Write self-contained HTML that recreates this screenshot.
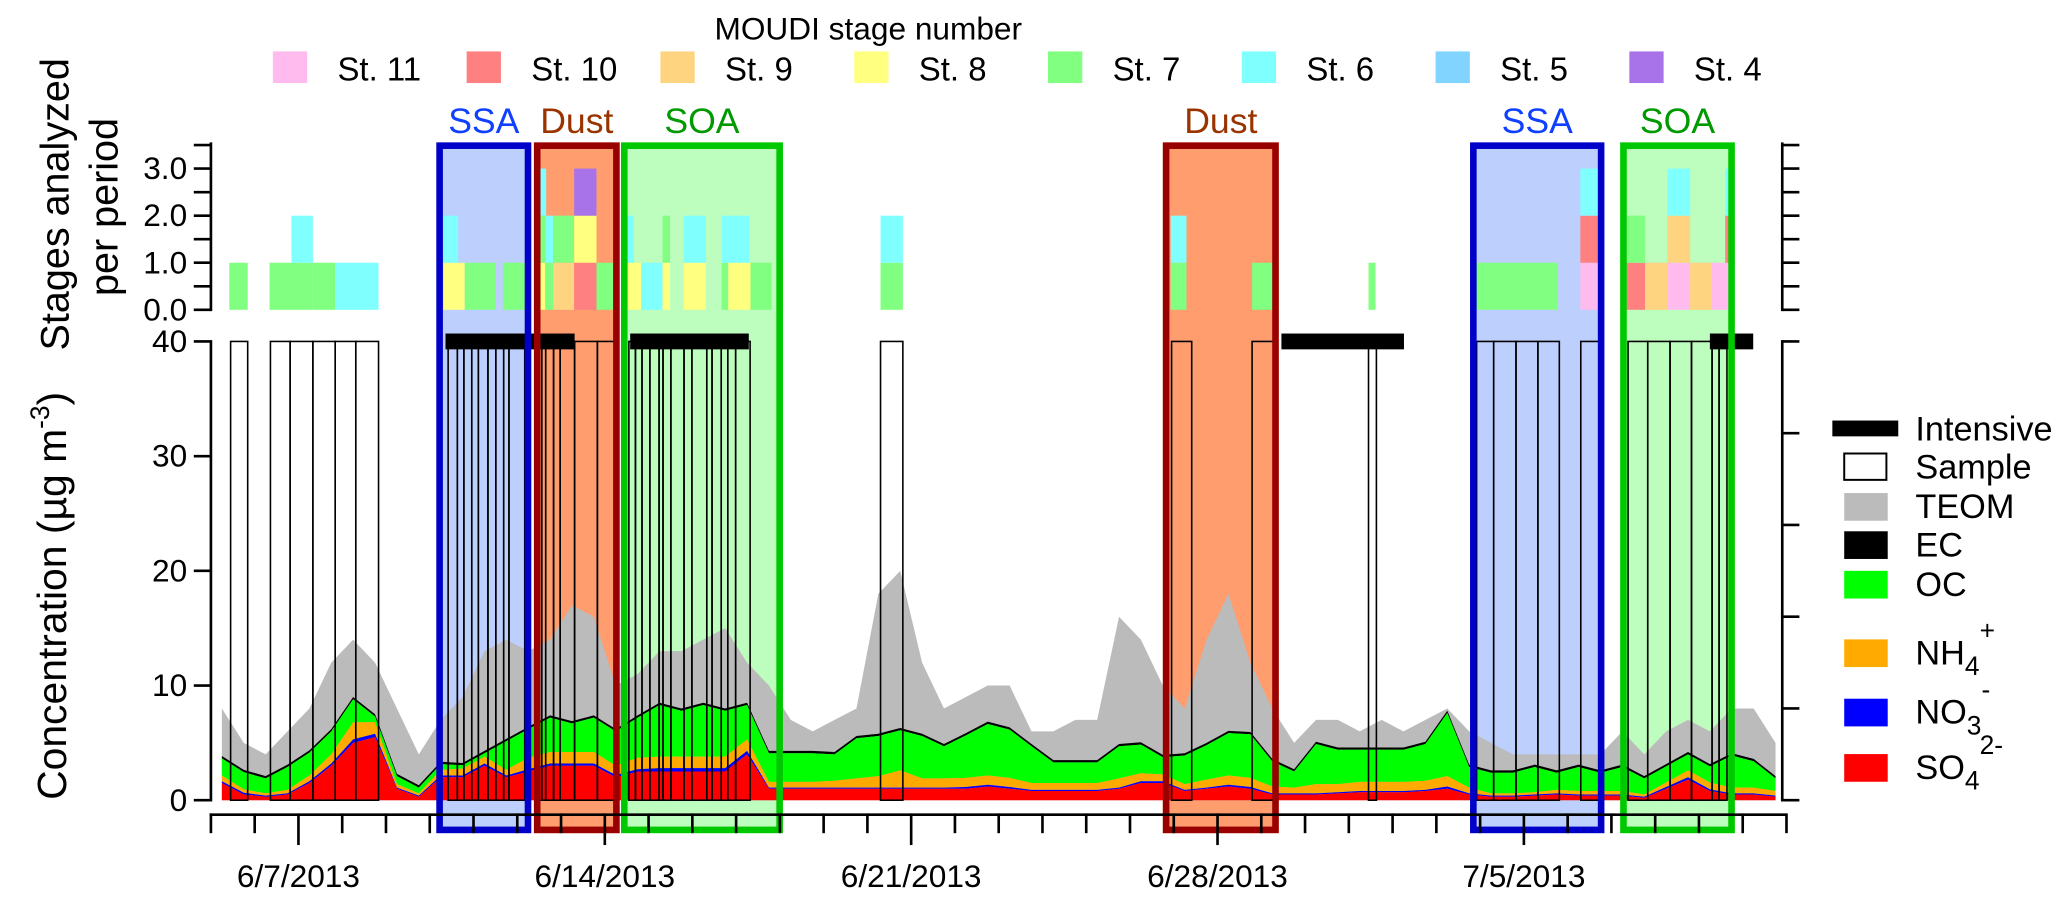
<!DOCTYPE html>
<html><head><meta charset="utf-8"><style>
html,body{margin:0;padding:0;background:#fff;}
svg{display:block;font-family:"Liberation Sans",Arial,sans-serif;}
</style></head><body>
<svg id="chart" width="2067" height="907" viewBox="0 0 1568 688" preserveAspectRatio="none" xmlns="http://www.w3.org/2000/svg">
<g id="regions"></g>
<g id="stages"></g>
<g id="conc"></g>
<g id="samples"></g>
<g id="borders"></g>
<g id="axes"></g>
<g id="legend"></g>
</svg>
<script>
// ---------- data ----------
const teom=[8,5,4,6,8,12,14,12,8,4,7,9,13,14,13,14,17,16,10,11,13,13,14,15,12,10,7,6,7,8,18,20,12,8,9,10,10,6,6,7,7,16,14,10,8,14,18,12,8,5,7,7,6,7,6,7,8,6,5,4,4,4,4,4,6,4,6,7,6,8,8,5];
const so4=[1.5,.5,.3,.5,1.5,3,5,5.5,1,.3,2,2,3,2,2.5,3,3,3,2,2.5,2.5,2.5,2.5,2.5,4,1,1,1,1,1,1,1,1,1,1,1.2,1,.8,.8,.8,.8,1,1.5,1.5,.8,1,1.2,1,.5,.5,.5,.6,.7,.7,.7,.8,1,.5,.3,.3,.4,.5,.4,.4,.4,.2,1,1.8,.8,.5,.5,.3];
const no3=[.15,.15,.1,.1,.15,.2,.3,.3,.1,.1,.15,.15,.2,.15,.2,.2,.2,.2,.2,.2,.3,.3,.3,.3,.3,.1,.1,.1,.1,.1,.1,.1,.1,.1,.15,.15,.15,.1,.1,.1,.1,.1,.15,.15,.1,.1,.15,.15,.1,.1,.1,.1,.1,.1,.1,.1,.2,.1,.1,.1,.1,.1,.1,.1,.1,.1,.15,.2,.15,.1,.1,.1];
const nh4=[.5,.3,.2,.3,.5,.8,1.5,1,.3,.2,.5,.6,.6,.5,1,1,1,1,.8,1,1,1,1,1,1,.5,.5,.5,.6,.8,1,1.5,.8,.8,.8,.8,.8,.6,.6,.6,.6,.8,.7,.6,.5,.7,.8,.8,.6,.5,.8,.7,.8,.8,.8,.8,.9,.5,.2,.2,.2,.3,.3,.3,.3,.2,.4,.6,.6,.5,.5,.4];
const oc=[1.5,1.5,1.3,2,2,2,2,.5,.7,.5,.5,.3,.3,2.5,2.5,3,2.5,3,3,3.5,4.5,4,4.5,4,3,2.5,2.5,2.5,2.3,3.5,3.5,3.5,3.7,2.8,3.7,4.5,4.2,3.2,1.8,1.8,1.8,2.8,2.5,1.5,2.5,3,3.7,3.8,2.2,1.4,3.5,3,2.8,2.8,2.8,3.2,5.5,1.8,1.8,1.8,2.2,1.5,2.1,1.6,2.1,1.4,1.4,1.4,1.4,2.8,2.3,1.1];
const ec=[.2,.2,.2,.2,.2,.2,.2,.2,.2,.2,.2,.2,.2,.2,.2,.2,.2,.2,.2,.2,.2,.2,.2,.2,.2,.2,.2,.2,.2,.2,.2,.2,.2,.2,.2,.2,.2,.2,.2,.2,.2,.2,.2,.2,.2,.2,.2,.2,.2,.2,.2,.2,.2,.2,.2,.2,.2,.2,.2,.2,.2,.2,.2,.2,.2,.2,.2,.2,.2,.2,.2,.2];
const stageStart=[0.42,1.34,2.33,2.84,1.84, 5.31,5.80,6.67,5.31, 7.46,7.64,7.82,8.30,8.81,7.46,7.64,7.82,8.30,7.48,8.30, 9.52,9.83,10.32,10.80,11.67,11.82,12.33,9.52,10.32,10.80,11.67, 15.30,15.30, 21.93,21.93,23.79,26.45, 28.89,31.29,31.29,31.29, 32.35,32.77,33.28,33.80,34.28,32.35,33.28,34.60,33.28,34.60];
const stageEnd=[0.84,2.33,2.84,3.83,2.33, 5.80,6.51,7.18,5.65, 7.64,7.82,8.30,8.81,9.27,7.64,7.82,8.30,8.81,7.66,8.81, 9.83,10.32,10.49,11.31,11.82,12.33,12.81,9.66,10.49,11.31,12.30, 15.81,15.81, 22.29,22.29,24.28,26.61, 30.78,31.72,31.72,31.72, 32.77,33.28,33.80,34.28,34.70,32.77,33.80,34.70,33.80,34.70];
const stageLevel=[0,0,0,0,1, 0,0,0,1, 0,0,0,0,0,1,1,1,1,2,2, 0,0,0,0,0,0,0,1,1,1,1, 0,1, 0,1,0,0, 0,0,1,2, 0,0,0,0,0,1,1,1,2,2];
const stageNum=[7,7,7,6,6, 8,7,7,6, 8,7,9,10,7,7,6,7,8,6,4, 8,6,8,8,7,8,7,6,7,6,6, 7,6, 7,6,7,7, 7,11,10,6, 10,9,11,9,11,7,9,10,6,6];
const eventNames=["SSA","Dust","SOA","Dust","SSA","SOA"];
const eventStart=[5.15,7.38,9.37,21.75,28.77,32.2];
const eventEnd=[7.32,9.34,13.07,24.40,31.84,34.82];
const intStart=[5.36,9.58,24.46,34.25];
const intEnd=[8.31,12.29,27.26,35.24];
const sampStart=[0.45,1.36,1.81,2.33,2.84,3.31, 5.42,5.63,5.78,5.96,6.11,6.33,6.51,6.69,6.81, 7.44,7.56,7.65,7.83,7.98,8.31,8.83, 9.55,9.70,9.85,10.03,10.24,10.33,10.51,10.81,10.99,11.33,11.45,11.66,11.81,11.99, 15.30,21.95,23.79,26.45, 28.92,29.31,29.82,30.32,31.30, 32.38,32.83,33.34,33.83,34.30,34.46];
const sampEnd=[0.84,1.81,2.33,2.84,3.31,3.83, 5.63,5.78,5.96,6.11,6.33,6.51,6.69,6.81,7.17, 7.56,7.65,7.83,7.98,8.31,8.83,9.25, 9.70,9.85,10.03,10.24,10.33,10.51,10.81,10.99,11.33,11.45,11.66,11.81,11.99,12.32, 15.81,22.41,24.31,26.63, 29.31,29.82,30.32,30.81,31.75, 32.83,33.34,33.83,34.30,34.46,34.64];
const dateLabels=["6/7/2013","6/14/2013","6/21/2013","6/28/2013","7/5/2013"];
const dateLabelDays=[2,9,16,23,30];
const concTicks=[0,10,20,30,40];
const stageTicks=["0.0","1.0","2.0","3.0"];

const X0=160, DX=33.2;
const x=d=>X0+d*DX;
const yc=v=>607-v*8.7;
const ys=v=>235-v*35.7;
const NS="http://www.w3.org/2000/svg";
function mk(tag,attrs,parent){const e=document.createElementNS(NS,tag);for(const k in attrs)e.setAttribute(k,attrs[k]);parent.appendChild(e);return e;}
const stageColor={11:"#ffbbee",10:"#ff8080",9:"#ffd480",8:"#ffff80",7:"#80ff80",6:"#80ffff",5:"#80d4ff",4:"#a873e8"};
const evFill={SSA:"#bdcffc",Dust:"#ff9d6f",SOA:"#bdfdbd"};
const evStroke={SSA:"#0000c8",Dust:"#990000",SOA:"#00c800"};
const evText={SSA:"#1040ff",Dust:"#993300",SOA:"#009900"};

const G=id=>document.getElementById(id);
eventNames.forEach((n,i)=>{
  const r=mk("rect",{x:x(eventStart[i]),y:108,width:x(eventEnd[i])-x(eventStart[i]),height:524,fill:evFill[n]},G("regions"));
  
  
  const t=mk("text",{x:(x(eventStart[i])+x(eventEnd[i]))/2,y:101,"text-anchor":"middle","font-size":27,fill:evText[n]},G("borders"));
  t.textContent=n;
  
  
});
stageStart.forEach((s,i)=>{
  const r=mk("rect",{x:x(s),y:ys(stageLevel[i]+1),width:x(stageEnd[i])-x(s),height:35.7,fill:stageColor[stageNum[i]]},G("stages"));
  
  
});
const N=teom.length;
const tt=i=>(i+0.5)*0.5;
function area(lo,hi,color,name){
  let pts=[];
  for(let i=0;i<N;i++)pts.push(x(tt(i))+","+yc(hi[i]));
  for(let i=N-1;i>=0;i--)pts.push(x(tt(i))+","+yc(lo[i]));
  const p=mk("polygon",{points:pts.join(" "),fill:color},G("conc"));
  
  
}
const zero=teom.map(()=>0);
area(zero,teom,"#bbbbbb","teom-area");
const c1=so4.map(v=>v), c2=c1.map((v,i)=>v+no3[i]), c3=c2.map((v,i)=>v+nh4[i]), c4=c3.map((v,i)=>v+oc[i]), c5=c4.map((v,i)=>v+ec[i]);
area(c4,c5,"#000000","ec-area");
area(c3,c4,"#00ff00","oc-area");
area(c2,c3,"#ffaa00","nh4-area");
area(c1,c2,"#0000ff","no3-area");
area(zero,c1,"#ff0000","so4-area");
sampStart.forEach((s,i)=>{
  const r=mk("rect",{x:x(s),y:yc(40),width:x(sampEnd[i])-x(s),height:yc(0)-yc(40),fill:"none",stroke:"#000","stroke-width":1.2},G("samples"));
  
  
});
intStart.forEach((s,i)=>{
  const r=mk("rect",{x:x(s),y:yc(40)-6,width:x(intEnd[i])-x(s),height:12,fill:"#000"},G("samples"));
  
  
});
eventNames.forEach((n,i)=>{
  const r=mk("rect",{x:x(eventStart[i])+2.5,y:110.5,width:x(eventEnd[i])-x(eventStart[i])-5,height:519,fill:"none",stroke:evStroke[n],"stroke-width":5},G("borders"));
  
  
});
const A=G("axes");
function line(x1,y1,x2,y2,w){mk("line",{x1,y1,x2,y2,stroke:"#000","stroke-width":w||2},A);}
line(160,108,160,236);line(1352,108,1352,236);
for(let k=0;k<=7;k++){const yy=ys(k*0.5);line(147,yy,160,yy);line(1352,yy,1365,yy);}
stageTicks.forEach((lab,i)=>{const t=mk("text",{x:142,y:ys(i)+8,"text-anchor":"end","font-size":24},A);t.textContent=lab;
});
line(160,258,160,608);line(1352,258,1352,608);
concTicks.forEach(v=>{line(147,yc(v),160,yc(v));const t=mk("text",{x:142,y:yc(v)+8,"text-anchor":"end","font-size":24},A);t.textContent=v;
});
for(let k=0;k<=5;k++){const yy=607-k*69.6;line(1352,yy,1365,yy);}
line(159,618,1355,618);
for(let d=0;d<=36;d++){const major=dateLabelDays.includes(d);line(x(d),617,x(d),major?641:632);}
dateLabels.forEach((lab,i)=>{const t=mk("text",{x:x(dateLabelDays[i]),y:673,"text-anchor":"middle","font-size":24},A);t.textContent=lab;
});
let t=mk("text",{transform:"translate(50,452) rotate(-90)","text-anchor":"middle","font-size":31},A);
t.innerHTML='Concentration (µg m<tspan dy="-13" font-size="20">-3</tspan><tspan dy="13">)</tspan>';

t=mk("text",{transform:"translate(52,155) rotate(-90)","text-anchor":"middle","font-size":30},A);t.textContent="Stages analyzed";

t=mk("text",{transform:"translate(89,157) rotate(-90)","text-anchor":"middle","font-size":30},A);t.textContent="per period";

const L=G("legend");
t=mk("text",{x:542,y:30,"font-size":24},L);t.textContent="MOUDI stage number";

[11,10,9,8,7,6,5,4].forEach((s,i)=>{
  const bx=207+i*147;
  const r=mk("rect",{x:bx,y:39,width:26,height:24,fill:stageColor[s]},L);
  
  const tx=mk("text",{x:bx+49,y:61,"font-size":25},L);tx.textContent="St. "+s;
  
});
const items=[["Intensive",325,"#000","bar"],["Sample",354,"#fff","box"],["TEOM",384,"#bbbbbb"],["EC",413,"#000"],["OC",443,"#00ff00"],["NH4",495,"#ffaa00","+"],["NO3",540,"#0000ff","-"],["SO4",582,"#ff0000","2-"]];
const subs={NH4:["NH","4"],NO3:["NO","3"],SO4:["SO","4"]};
items.forEach(it=>{
  let r;
  if(it[3]==="bar") r=mk("rect",{x:1390,y:it[1]-6,width:50,height:12,fill:"#000"},L);
  else if(it[3]==="box") r=mk("rect",{x:1399,y:it[1]-10,width:32,height:20,fill:"#fff",stroke:"#000","stroke-width":1.5},L);
  else r=mk("rect",{x:1399,y:it[1]-10,width:33,height:21,fill:it[2]},L);
  
  const tx=mk("text",{x:1453,y:it[1]+9,"font-size":26},L);
  if(subs[it[0]]){const s=subs[it[0]];tx.innerHTML=s[0]+'<tspan dy="8" font-size="20">'+s[1]+'</tspan><tspan dy="-27" font-size="20">'+it[3]+'</tspan>';}
  else tx.textContent=it[0];
  
});
</script>
</body></html>
